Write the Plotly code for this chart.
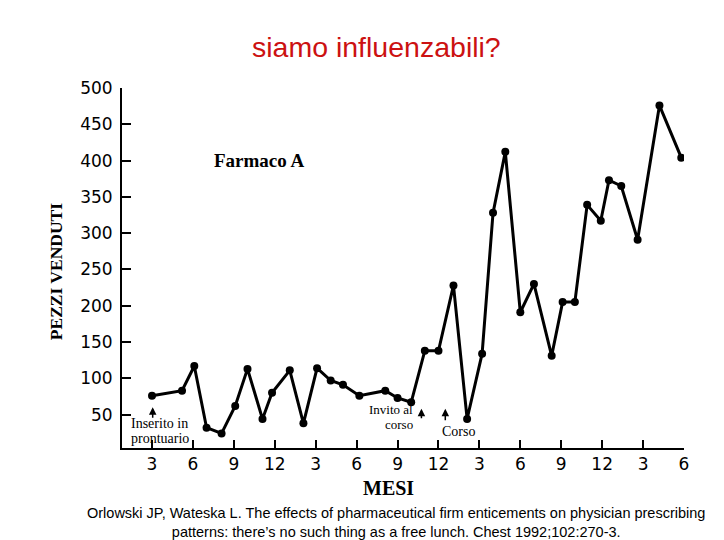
import plotly.graph_objects as go

# Data
months = [3, 5.2, 6.1, 7, 8.1, 9.1, 10, 11.1, 11.8, 13.1, 14.1, 15.1, 16.1, 17, 18.2,
          20.1, 21, 22, 23, 24, 25.1, 26.1, 27.2, 28, 28.9, 30, 31, 32.3, 33.1, 34,
          34.9, 35.9, 36.5, 37.4, 38.6, 40.2, 41.8]
pezzi = [76, 83, 117, 32, 24, 62, 113, 44, 80, 111, 38, 114, 97, 91, 76,
         83, 73, 67, 138, 138, 228, 44, 134, 328, 412, 191, 230, 131, 205, 205,
         339, 317, 373, 365, 291, 476, 404]
x_tickvals = [3, 6, 9, 12, 15, 18, 21, 24, 27, 30, 33, 36, 39, 42]
x_ticktext = ["3", "6", "9", "12", "3", "6", "9", "12", "3", "6", "9", "12", "3", "6"]
y_tickvals = [50, 100, 150, 200, 250, 300, 350, 400, 450, 500]

SERIF = "Liberation Serif, Times New Roman, serif"
SANS = "Liberation Sans, Arial, sans-serif"

fig = go.Figure()
fig.add_trace(go.Scatter(
    x=months, y=pezzi, mode="lines+markers",
    line=dict(color="black", width=3),
    marker=dict(color="black", size=8),
    showlegend=False, hoverinfo="skip"))


def txt(text, x, y, size, xanchor="center", weight="normal", family=SERIF, **kw):
    d = dict(text=text, x=x, y=y, showarrow=False, xanchor=xanchor, yanchor="middle",
             font=dict(family=family, size=size, color="black", weight=weight))
    d.update(kw)
    return d


annotations = [
    dict(text="siamo influenzabili?", xref="paper", yref="paper", x=0.452, y=1.114,
         showarrow=False, font=dict(family=SANS, size=28.5, color="#cc1111"),
         xanchor="center", yanchor="middle"),
    txt("Farmaco A", 10.9, 400, 19, weight="bold"),
    txt("PEZZI VENDUTI", -0.117, 0.489, 17.5, weight="bold", xref="paper", yref="paper",
        textangle=-90),
    txt("MESI", 0.475, -0.111, 20, weight="bold", xref="paper", yref="paper"),
    txt("Inserito in", 1.3, 38, 14, xanchor="left"),
    txt("prontuario", 1.3, 17, 14, xanchor="left"),
    txt("Invito al", 22.25, 57, 13, xanchor="right"),
    txt("corso", 22.25, 36, 13, xanchor="right"),
    txt("Corso", 25.5, 27, 14),
    dict(text="Orlowski JP, Wateska L. The effects of pharmaceutical firm enticements on physician prescribing<br>"
              "patterns: there\u2019s no such thing as a free lunch. Chest 1992;102:270-3.",
         xref="paper", yref="paper", x=0.487, y=-0.206, showarrow=False,
         xanchor="center", yanchor="middle", align="center",
         font=dict(family=SANS, size=14.5, color="black")),
]
for ax_x, head_y, tail in [(3.05, 60, 12), (22.75, 58, 11), (24.5, 58, 13)]:
    annotations.append(dict(text="", x=ax_x, y=head_y, ax=0, ay=tail, showarrow=True,
                            arrowhead=2, arrowsize=1, arrowwidth=1.5, arrowcolor="black"))

fig.update_layout(
    width=724, height=540,
    margin=dict(l=122, r=40, t=88, b=92),
    paper_bgcolor="white", plot_bgcolor="white",
    annotations=annotations,
    xaxis=dict(range=[0.8, 42], tickvals=x_tickvals, ticktext=x_ticktext,
               showgrid=False, zeroline=False, showline=True, linecolor="black", linewidth=2,
               ticks="inside", ticklen=8, tickwidth=2, tickcolor="black",
               tickfont=dict(family="DejaVu Sans, sans-serif", size=17, color="black")),
    yaxis=dict(range=[4, 500], tickvals=y_tickvals, ticklabelstandoff=4,
               showgrid=False, zeroline=False, showline=True, linecolor="black", linewidth=2,
               ticks="inside", ticklen=9, tickwidth=2, tickcolor="black",
               tickfont=dict(family="DejaVu Sans, sans-serif", size=17, color="black")),
)

fig.write_html("out.html")
